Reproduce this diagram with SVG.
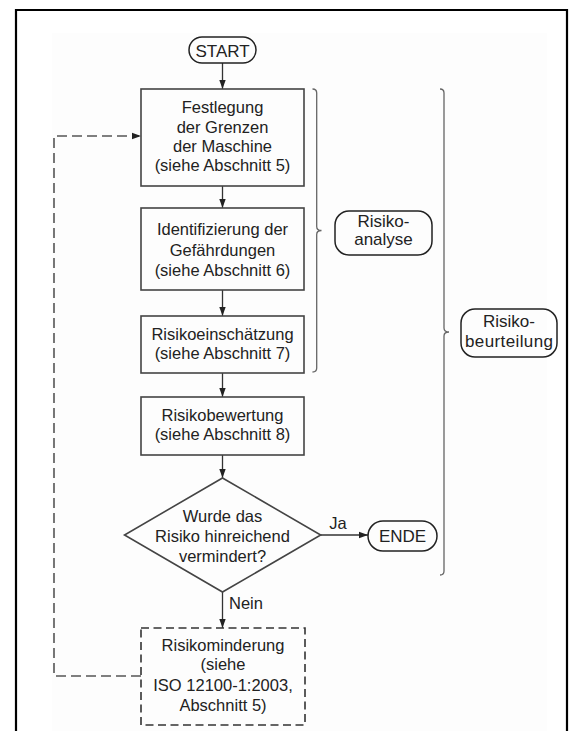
<svg xmlns="http://www.w3.org/2000/svg" width="573" height="731" viewBox="0 0 573 731">
<defs>
<marker id="ah" markerWidth="10" markerHeight="8" refX="9" refY="4" orient="auto" markerUnits="userSpaceOnUse">
<path d="M0,0.8 L9,4 L0,7.2 Z" fill="#222"/>
</marker>
</defs>
<style>
.box{fill:none;stroke:#444;stroke-width:1.6}
.dbox{fill:none;stroke:#333;stroke-width:1.6;stroke-dasharray:8 4.5}
.pill{fill:none;stroke:#222;stroke-width:1.5}
.t{font-family:"Liberation Sans",Arial,sans-serif;font-size:16.5px;fill:#222;text-anchor:middle}
.p{font-family:"Liberation Sans",Arial,sans-serif;font-size:17px;fill:#222;text-anchor:middle}
.c{fill:none;stroke:#333;stroke-width:1.3}
.loop{fill:none;stroke:#555;stroke-width:1.6;stroke-dasharray:10 5}
.brace{fill:none;stroke:#666;stroke-width:1.3}
</style>
<rect x="0" y="0" width="573" height="731" fill="#ffffff"/>
<rect x="52" y="33" width="495" height="698" fill="#fdfdfd"/>
<path d="M16,731 L16,10 L567,10 L567,731" fill="none" stroke="#000" stroke-width="2.2"/>

<g id="connectors">
<line class="c" x1="222.5" y1="63" x2="222.5" y2="89" marker-end="url(#ah)"/>
<line class="c" x1="222.5" y1="186" x2="222.5" y2="208" marker-end="url(#ah)"/>
<line class="c" x1="222.5" y1="290" x2="222.5" y2="316" marker-end="url(#ah)"/>
<line class="c" x1="222.5" y1="373" x2="222.5" y2="397" marker-end="url(#ah)"/>
<line class="c" x1="222.5" y1="455" x2="222.5" y2="478" marker-end="url(#ah)"/>
<line class="c" x1="222.5" y1="592" x2="222.5" y2="628" marker-end="url(#ah)"/>
<line class="c" x1="320.7" y1="535" x2="368" y2="535" marker-end="url(#ah)"/>
<path class="loop" d="M141,676 L54,676 L54,136 L139,136"/>
<path d="M132,132.8 L141,136 L132,139.2 Z" fill="#222"/>
<text class="t" x="338" y="529">Ja</text>
<text class="t" x="229" y="609" style="text-anchor:start">Nein</text>
</g>

<g id="start">
<rect class="pill" x="189" y="37" width="67" height="26" rx="13"/>
<text class="p" x="222.5" y="56.5">START</text>
</g>

<g id="box1">
<rect class="box" x="141" y="89" width="163" height="97"/>
<text class="t" x="222.5" y="113.3">Festlegung</text>
<text class="t" x="222.5" y="132.5">der Grenzen</text>
<text class="t" x="222.5" y="151.7">der Maschine</text>
<text class="t" x="222.5" y="170.8">(siehe Abschnitt 5)</text>
</g>

<g id="box2">
<rect class="box" x="141" y="208" width="163" height="82"/>
<text class="t" x="222.5" y="235">Identifizierung der</text>
<text class="t" x="222.5" y="255.5">Gefährdungen</text>
<text class="t" x="222.5" y="275.5">(siehe Abschnitt 6)</text>
</g>

<g id="box3">
<rect class="box" x="141" y="316" width="163" height="57"/>
<text class="t" x="222.5" y="340">Risikoeinschätzung</text>
<text class="t" x="222.5" y="359">(siehe Abschnitt 7)</text>
</g>

<g id="box4">
<rect class="box" x="141" y="397" width="163" height="58"/>
<text class="t" x="222.5" y="420.7">Risikobewertung</text>
<text class="t" x="222.5" y="440">(siehe Abschnitt 8)</text>
</g>

<g id="decision">
<path class="box" d="M222.5,478 L320.7,535 L222.5,592 L124.5,535 Z"/>
<text class="t" x="222.5" y="521.7">Wurde das</text>
<text class="t" x="222.5" y="541.7">Risiko hinreichend</text>
<text class="t" x="222.5" y="561.7">vermindert?</text>
</g>

<g id="ende">
<rect class="pill" x="368" y="521" width="69" height="30" rx="15"/>
<text class="p" x="402.5" y="541.5">ENDE</text>
</g>

<g id="reduction">
<rect class="dbox" x="141" y="628" width="164" height="97"/>
<text class="t" x="223" y="650.7">Risikominderung</text>
<text class="t" x="223" y="670.3">(siehe</text>
<text class="t" x="223" y="690.5">ISO 12100-1:2003,</text>
<text class="t" x="223" y="710.5">Abschnitt 5)</text>
</g>

<g id="analyse">
<path class="brace" d="M312.5,89 Q316.7,89 316.7,93 L316.7,226.5 Q316.7,230.5 321.5,230.5 Q316.7,230.5 316.7,234.5 L316.7,368 Q316.7,372 312.5,372"/>
<rect class="pill" x="335" y="211" width="97" height="44" rx="14"/>
<text class="p" x="383.5" y="226.7">Risiko-</text>
<text class="p" x="383.5" y="245">analyse</text>
</g>

<g id="beurteilung">
<path class="brace" d="M440,89 Q444,89 444,93 L444,328 Q444,332 449,332 Q444,332 444,336 L444,571 Q444,575 440,575"/>
<rect class="pill" x="461" y="309" width="96" height="48" rx="14"/>
<text class="p" x="509" y="326.7">Risiko-</text>
<text class="p" x="509" y="346.7" textLength="88" lengthAdjust="spacing">beurteilung</text>
</g>
</svg>
